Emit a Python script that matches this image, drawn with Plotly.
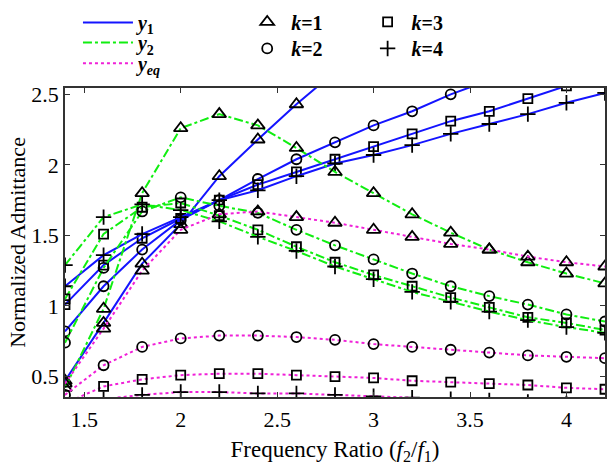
import plotly.graph_objects as go

# ---------------- data ----------------
freq_ratio = [1.4, 1.6, 1.8, 2.0, 2.2, 2.4, 2.6, 2.8, 3.0, 3.2, 3.4, 3.6, 3.8, 4.0, 4.2]

y1_k1 = [0.47, 0.88, 1.30, 1.58, 1.92, 2.18, 2.43, 2.66, None, None, None, None, None, None, None]
y1_k2 = [0.82, 1.14, 1.40, 1.61, 1.75, 1.90, 2.04, 2.16, 2.28, 2.38, 2.50, 2.60, None, None, None]
y1_k3 = [1.01, 1.29, 1.48, 1.62, 1.75, 1.86, 1.95, 2.04, 2.13, 2.22, 2.31, 2.38, 2.47, 2.56, None]
y1_k4 = [1.14, 1.36, 1.51, 1.63, 1.75, 1.82, 1.92, 2.01, 2.07, 2.14, 2.22, 2.29, 2.36, 2.44, 2.51]

y2_k1 = [0.42, 0.98, 1.80, 2.26, 2.36, 2.28, 2.12, 1.95, 1.80, 1.65, 1.52, 1.40, 1.31, 1.23, 1.16]
y2_k2 = [0.74, 1.27, 1.67, 1.77, 1.71, 1.66, 1.54, 1.43, 1.33, 1.23, 1.14, 1.07, 1.01, 0.94, 0.89]
y2_k3 = [1.05, 1.51, 1.70, 1.73, 1.64, 1.54, 1.42, 1.31, 1.22, 1.14, 1.06, 0.99, 0.92, 0.88, 0.83]
y2_k4 = [1.29, 1.63, 1.72, 1.68, 1.60, 1.49, 1.39, 1.28, 1.19, 1.10, 1.03, 0.96, 0.90, 0.85, 0.81]

yeq_k1 = [0.45, 0.84, 1.25, 1.54, 1.65, 1.67, 1.63, 1.59, 1.54, 1.49, 1.44, 1.40, 1.35, 1.31, 1.28]
yeq_k2 = [0.37, 0.58, 0.71, 0.77, 0.79, 0.79, 0.78, 0.76, 0.73, 0.71, 0.69, 0.67, 0.65, 0.64, 0.63]
yeq_k3 = [0.31, 0.43, 0.48, 0.51, 0.52, 0.52, 0.51, 0.50, 0.49, 0.47, 0.46, 0.45, 0.44, 0.42, 0.41]
yeq_k4 = [0.27, 0.34, 0.37, 0.39, 0.39, 0.38, 0.38, 0.37, 0.36, 0.35, 0.34, 0.33, 0.32, 0.31, 0.30]

k_labels = ["<b><i>k</i>=1</b>", "<b><i>k</i>=2</b>", "<b><i>k</i>=3</b>", "<b><i>k</i>=4</b>"]
curve_labels = ["<b><i>y</i><sub>1</sub></b>", "<b><i>y</i><sub>2</sub></b>", "<b><i>y<sub>eq</sub></i></b>"]

x_ticks = [1.5, 2, 2.5, 3, 3.5, 4]
y_ticks = [0.5, 1, 1.5, 2, 2.5]

# ---------------- styles ----------------
SERIF = "Liberation Serif"
curve_styles = [
    dict(color="#1414ff", dash="solid"),
    dict(color="#10ee10", dash="dashdot"),
    dict(color="#f020d8", dash="dot"),
]
k_symbols = ["triangle-up-open", "circle-open", "square-open", "cross-thin-open"]
k_sizes = [12, 10, 9, 11]

# legend placement (paper coords) for each entry
curve_legend_pos = [(0.024, 1.212), (0.024, 1.147), (0.024, 1.080)]
k_legend_pos = [(0.33, 1.214), (0.33, 1.128), (0.553, 1.214), (0.553, 1.128)]

data = [
    [y1_k1, y1_k2, y1_k3, y1_k4],
    [y2_k1, y2_k2, y2_k3, y2_k4],
    [yeq_k1, yeq_k2, yeq_k3, yeq_k4],
]

fig = go.Figure()

for ci, series_list in enumerate(data):
    st = curve_styles[ci]
    for ki, ys in enumerate(series_list):
        fig.add_trace(go.Scatter(
            x=freq_ratio, y=ys, mode="lines+markers",
            line=dict(color=st["color"], dash=st["dash"], width=2),
            marker=dict(symbol=k_symbols[ki], size=k_sizes[ki], color="black",
                        line=dict(color="black", width=1.8)),
            showlegend=False, hoverinfo="skip",
        ))

legend_common = dict(
    font=dict(family=SERIF, size=20, color="black"),
    bgcolor="rgba(0,0,0,0)", borderwidth=0, tracegroupgap=0,
    xanchor="left", yanchor="middle", orientation="v",
)
legend_layout = {}
n_leg = 0

# legend entries: curve types
for ci, name in enumerate(curve_labels):
    st = curve_styles[ci]
    n_leg += 1
    key = "legend" if n_leg == 1 else f"legend{n_leg}"
    fig.add_trace(go.Scatter(
        x=[None], y=[None], mode="lines", name=name,
        line=dict(color=st["color"], dash=st["dash"], width=2),
        legend=key,
    ))
    lx, ly = curve_legend_pos[ci]
    legend_layout[key] = dict(x=lx, y=ly, itemwidth=50, **legend_common)

# legend entries: k values
for ki, name in enumerate(k_labels):
    n_leg += 1
    key = f"legend{n_leg}"
    fig.add_trace(go.Scatter(
        x=[None], y=[None], mode="markers", name=name,
        marker=dict(symbol=k_symbols[ki], size=k_sizes[ki], color="black",
                    line=dict(color="black", width=1.8)),
        legend=key,
    ))
    lx, ly = k_legend_pos[ki]
    legend_layout[key] = dict(x=lx, y=ly, itemwidth=38, **legend_common)

fig.update_layout(
    width=610, height=465,
    margin=dict(l=65, r=3, t=78, b=65),
    paper_bgcolor="white", plot_bgcolor="white",
    font=dict(family=SERIF, size=20, color="black"),
    xaxis=dict(
        range=[1.4, 4.2], tickvals=x_ticks, ticktext=[str(v) for v in x_ticks],
        showgrid=False, zeroline=False,
        showline=True, linecolor="#333", linewidth=1.5, mirror="ticks",
        ticks="inside", ticklen=5, tickcolor="#333",
        tickfont=dict(family=SERIF, size=22, color="black"),
        ticklabelstandoff=2,
        title=dict(text="Frequency Ratio (<i>f</i><sub>2</sub>/<i>f</i><sub>1</sub>)",
                   font=dict(family=SERIF, size=23, color="black"), standoff=14),
    ),
    yaxis=dict(
        range=[0.355, 2.545], tickvals=y_ticks, ticktext=["0.5", "1", "1.5", "2", "2.5"],
        showgrid=False, zeroline=False,
        showline=True, linecolor="#333", linewidth=1.5, mirror="ticks",
        ticks="inside", ticklen=5, tickcolor="#333",
        tickfont=dict(family=SERIF, size=22, color="black"),
        title=dict(text="Normalized Admittance",
                   font=dict(family=SERIF, size=22, color="black"), standoff=0),
    ),
    **legend_layout,
)

fig.write_html("out.html")
